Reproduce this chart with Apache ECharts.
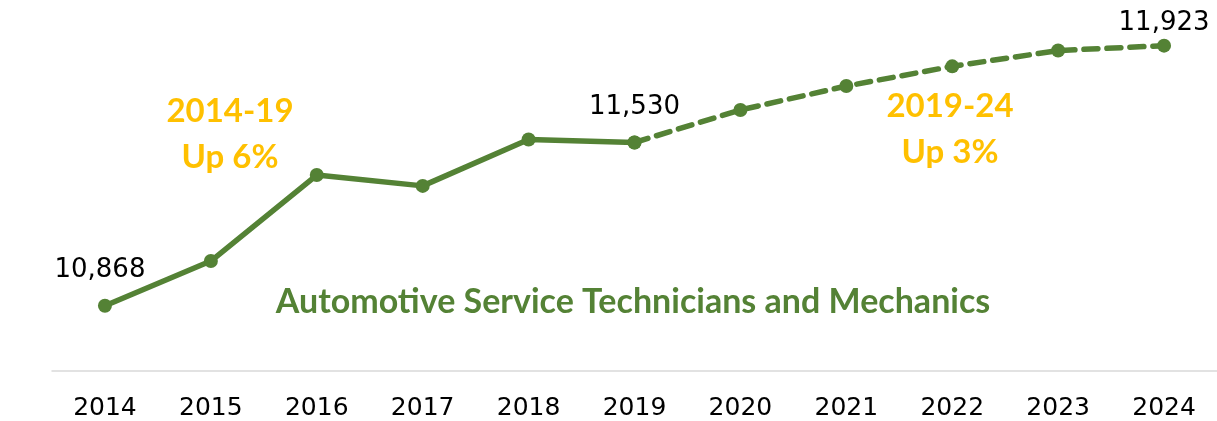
<!DOCTYPE html>
<html>
<head>
<meta charset="utf-8">
<script src="https://cdn.jsdelivr.net/npm/echarts@6/dist/echarts.min.js"></script>
<style>
  html, body { margin: 0; padding: 0; background: #fff; }
  #chart { width: 1217px; height: 421px; }
</style>
</head>
<body>
<div id="chart"></div>
<script>
// years on the x axis
const years = ['2014', '2015', '2016', '2017', '2018', '2019', '2020', '2021', '2022', '2023', '2024'];
// actual employment (solid part)
const actual = [10868, 11049, 11398, 11354, 11542, 11530, null, null, null, null, null];
// projected employment (dashed part)
const projected = [null, null, null, null, null, 11530, 11662, 11759, 11839, 11903, 11923];
// which points get a value label
const labelled = ['2014', '2019', '2024'];

const green = '#548235';
const gold = '#FFC000';
const boldFont = 'Lato, "DejaVu Sans", sans-serif';
const numFont = '"DejaVu Sans", sans-serif';

var myChart = echarts.init(document.getElementById('chart'));

function pointLabel(params) {
    if (labelled.indexOf(params.name) < 0) return '';
    return params.value.toLocaleString('en-US');
}

var option = {
    animation: false,
    title: {
        text: 'Automotive Service Technicians and Mechanics',
        left: 628,
        top: 280,
        textAlign: 'center',
        textStyle: { color: green, fontSize: 34, fontWeight: 'bold', fontFamily: boldFont }
    },
    grid: { left: 52, right: -3, top: 2, bottom: 46 },
    xAxis: {
        type: 'category',
        data: years,
        axisLine: { lineStyle: { color: '#d9d9d9', width: 1.5 } },
        axisTick: { show: false },
        axisLabel: { color: '#000', fontSize: 25, fontFamily: numFont, margin: 25 }
    },
    yAxis: {
        type: 'value',
        min: 10603,
        max: 12100,
        show: false,
        splitLine: { show: false }
    },
    graphic: [
        {
            type: 'text', x: 230, y: 88,
            style: { text: '2014-19\nUp 6%', fill: gold, font: 'bold 33px ' + boldFont, align: 'center', lineHeight: 46 }
        },
        {
            type: 'text', x: 950, y: 83,
            style: { text: '2019-24\nUp 3%', fill: gold, font: 'bold 33px ' + boldFont, align: 'center', lineHeight: 46 }
        }
    ],
    series: [
        {
            type: 'line',
            data: actual,
            symbol: 'circle',
            symbolSize: 14,
            lineStyle: { color: green, width: 5.5 },
            itemStyle: { color: green },
            label: {
                show: true,
                formatter: pointLabel,
                color: '#000',
                fontSize: 26,
                fontFamily: numFont,
                position: 'top',
                distance: 15
            },
            labelLayout: function (params) {
                if (params.dataIndex === 0) return { dx: -5 };
                return {};
            }
        },
        {
            type: 'line',
            data: projected,
            symbol: 'circle',
            symbolSize: 14,
            lineStyle: { color: green, width: 5.5, type: [14, 9], cap: 'round' },
            itemStyle: { color: green },
            label: {
                show: true,
                formatter: function (params) {
                    return params.name === '2024' ? pointLabel(params) : '';
                },
                color: '#000',
                fontSize: 26,
                fontFamily: numFont,
                position: 'top',
                distance: 2
            }
        }
    ]
};
myChart.setOption(option);
</script>
</body>
</html>
